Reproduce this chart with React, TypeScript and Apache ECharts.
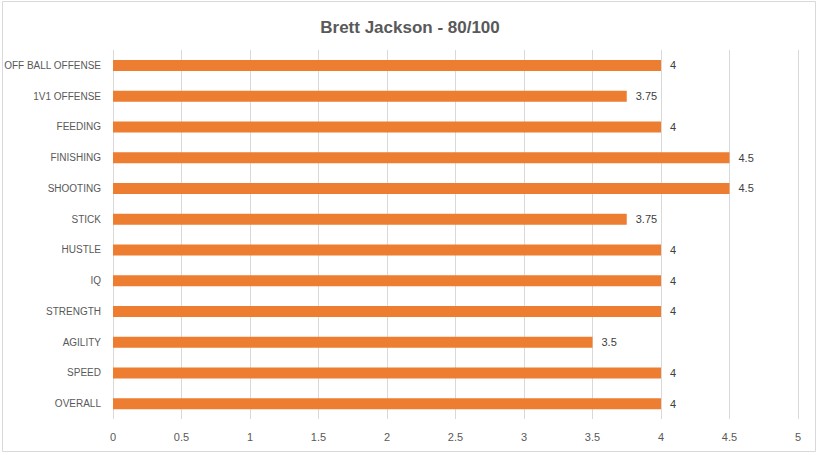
import { useEffect, useRef } from 'react';
import * as echarts from 'echarts';

const categories = [
  'OFF BALL OFFENSE',
  '1V1 OFFENSE',
  'FEEDING',
  'FINISHING',
  'SHOOTING',
  'STICK',
  'HUSTLE',
  'IQ',
  'STRENGTH',
  'AGILITY',
  'SPEED',
  'OVERALL',
];
const scores = [4, 3.75, 4, 4.5, 4.5, 3.75, 4, 4, 4, 3.5, 4, 4];

const FONT = '"Liberation Sans", "Noto Sans", sans-serif';

export default function App() {
  const chartRef = useRef<HTMLDivElement>(null);

  useEffect(() => {
    document.body.style.margin = '0';
    if (!chartRef.current) return;
    const chart = echarts.init(chartRef.current, undefined, { renderer: 'svg' });

    // category axis runs bottom-up, so reverse to keep the picture's order
    const cats = [...categories].reverse();
    const vals = [...scores].reverse();

    const option: echarts.EChartsOption = {
      animation: false,
      backgroundColor: '#ffffff',
      title: {
        text: 'Brett Jackson - 80/100',
        left: 'center',
        top: 14,
        textStyle: {
          color: '#595959',
          fontSize: 17,
          fontWeight: 'bold',
          fontFamily: FONT,
        },
      },
      graphic: [
        {
          type: 'rect',
          shape: { x: 2.5, y: 1.5, width: 813, height: 450 },
          style: { fill: 'none', stroke: '#d9d9d9', lineWidth: 1 },
          silent: true,
        },
      ],
      grid: {
        left: 113,
        right: 22,
        top: 50,
        bottom: 36,
        outerBoundsMode: 'none',
      } as any,
      xAxis: {
        type: 'value',
        min: 0,
        max: 5,
        interval: 0.5,
        axisLine: { show: false },
        axisTick: { show: false },
        axisLabel: {
          color: '#595959',
          fontSize: 11,
          fontFamily: FONT,
          margin: 12,
        },
        splitLine: { lineStyle: { color: '#d9d9d9', width: 1 } },
      },
      yAxis: {
        type: 'category',
        data: cats,
        axisLine: { show: false },
        axisTick: { show: false },
        axisLabel: {
          color: '#595959',
          fontSize: 10,
          fontFamily: FONT,
          margin: 12,
        },
      },
      series: [
        {
          type: 'bar',
          data: vals,
          barWidth: 11,
          itemStyle: { color: '#ED7D31' },
          label: {
            show: true,
            position: 'right',
            distance: 9,
            color: '#404040',
            fontSize: 11,
            fontFamily: FONT,
          },
        },
      ],
    };

    chart.setOption(option);

    return () => {
      chart.dispose();
    };
  }, []);

  return <div ref={chartRef} style={{ width: '820px', height: '455px' }} />;
}
